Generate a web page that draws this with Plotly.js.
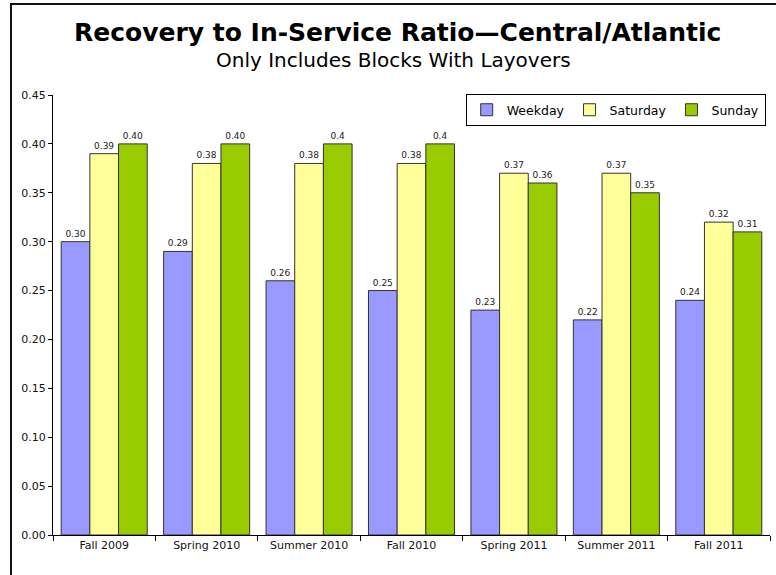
<!DOCTYPE html>
<html>
<head>
<meta charset="utf-8">
<script src="https://cdn.plot.ly/plotly-3.0.1.min.js"></script>
<style>
html,body{margin:0;padding:0;background:#fff;}
#chart{width:776px;height:575px;}
</style>
</head>
<body>
<div id="chart"></div>
<script>
// ---- data ----
var categories = ["Fall 2009", "Spring 2010", "Summer 2010", "Fall 2010", "Spring 2011", "Summer 2011", "Fall 2011"];
var weekday  = [0.30, 0.29, 0.26, 0.25, 0.23, 0.22, 0.24];
var saturday = [0.39, 0.38, 0.38, 0.38, 0.37, 0.37, 0.32];
var sunday   = [0.40, 0.40, 0.40, 0.40, 0.36, 0.35, 0.31];
var weekdayLabels  = ["0.30", "0.29", "0.26", "0.25", "0.23", "0.22", "0.24"];
var saturdayLabels = ["0.39", "0.38", "0.38", "0.38", "0.37", "0.37", "0.32"];
var sundayLabels   = ["0.40", "0.40", "0.4", "0.4", "0.36", "0.35", "0.31"];
var seriesNames = ["Weekday", "Saturday", "Sunday"];
var yTickVals = [0, 0.05, 0.10, 0.15, 0.20, 0.25, 0.30, 0.35, 0.40, 0.45];

var FONT = "DejaVu Sans, Liberation Sans, Arial, sans-serif";
var colors = ["#9999FF", "#FFFF99", "#99CC00"];
var values = [weekday, saturday, sunday];
var labels = [weekdayLabels, saturdayLabels, sundayLabels];

var traces = seriesNames.map(function (name, i) {
  return {
    type: "bar",
    name: name,
    x: categories,
    y: values[i],
    text: labels[i],
    textposition: "outside",
    texttemplate: "%{text}",
    textfont: {family: FONT, size: 9, color: "#222"},
    constraintext: "none",
    cliponaxis: false,
    marker: {color: colors[i], line: {color: "#333", width: 1}},
    hoverinfo: "x+y"
  };
});

var layout = {
  width: 776,
  height: 575,
  margin: {l: 53, r: 6, t: 95, b: 40, pad: 0},
  paper_bgcolor: "#ffffff",
  plot_bgcolor: "#ffffff",
  barmode: "group",
  bargap: 0.16,
  bargroupgap: 0,
  font: {family: FONT, color: "#111"},
  showlegend: true,
  legend: {
    orientation: "h",
    x: 0.994, xanchor: "right",
    y: 1.002, yanchor: "top",
    bgcolor: "#ffffff",
    bordercolor: "#000",
    borderwidth: 1,
    font: {family: FONT, size: 12.5, color: "#000"},
    traceorder: "normal",
    itemwidth: 30
  },
  xaxis: {
    type: "category",
    range: [-0.5, 6.5],
    showline: true,
    linecolor: "#000",
    linewidth: 1,
    ticks: "outside",
    tickson: "boundaries",
    ticklen: 5,
    tickcolor: "#000",
    showgrid: false,
    zeroline: false,
    tickfont: {family: FONT, size: 11, color: "#111"}
  },
  yaxis: {
    range: [0, 0.45],
    tickvals: yTickVals,
    tickformat: ".2f",
    showline: true,
    linecolor: "#000",
    linewidth: 1,
    ticks: "outside",
    ticklen: 4,
    tickcolor: "#000",
    showgrid: false,
    zeroline: false,
    tickfont: {family: FONT, size: 11, color: "#111"}
  },
  annotations: [
    {
      text: "<b>Recovery to In-Service Ratio\u2014Central/Atlantic</b>",
      xref: "paper", yref: "paper",
      x: 0.48, y: 1.143, xanchor: "center", yanchor: "middle",
      showarrow: false,
      font: {family: FONT, size: 25, color: "#000"}
    },
    {
      text: "Only Includes Blocks With Layovers",
      xref: "paper", yref: "paper",
      x: 0.475, y: 1.0795, xanchor: "center", yanchor: "middle",
      showarrow: false,
      font: {family: FONT, size: 20, color: "#000"}
    }
  ],
  shapes: [
    {
      type: "rect", xref: "paper", yref: "paper",
      x0: -0.0586, x1: 1.2, y0: -0.3, y1: 1.2068,
      line: {color: "#111", width: 2},
      fillcolor: "rgba(0,0,0,0)",
      layer: "above"
    }
  ]
};

Plotly.newPlot("chart", traces, layout, {staticPlot: true, displayModeBar: false});
</script>
</body>
</html>
